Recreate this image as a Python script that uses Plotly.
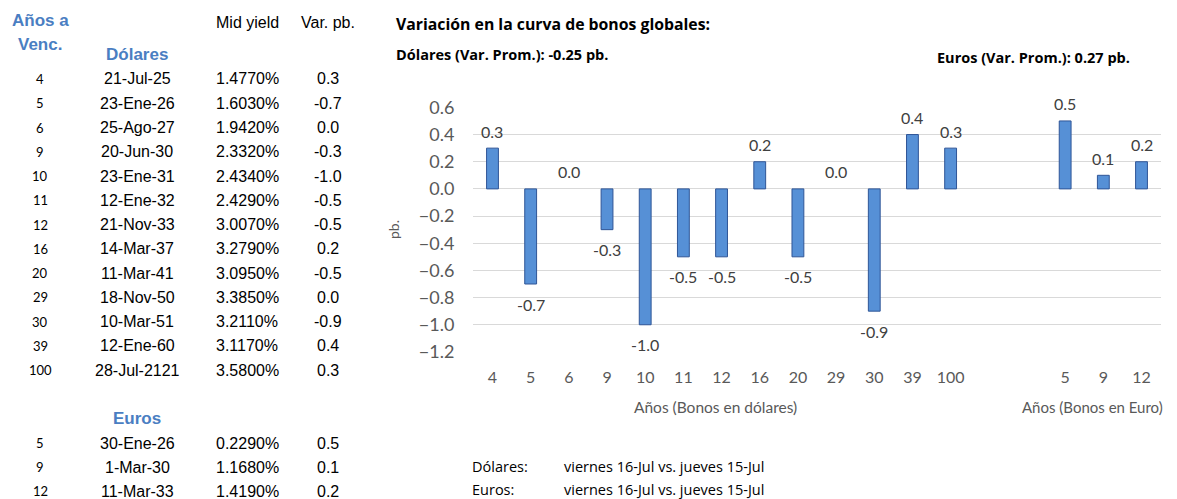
import plotly.graph_objects as go

# ---------------- data ----------------
usd_years = ["4", "5", "6", "9", "10", "11", "12", "16", "20", "29", "30", "39", "100"]
usd_dates = ["21-Jul-25", "23-Ene-26", "25-Ago-27", "20-Jun-30", "23-Ene-31", "12-Ene-32",
             "21-Nov-33", "14-Mar-37", "11-Mar-41", "18-Nov-50", "10-Mar-51", "12-Ene-60", "28-Jul-2121"]
usd_yields = ["1.4770%", "1.6030%", "1.9420%", "2.3320%", "2.4340%", "2.4290%", "3.0070%",
              "3.2790%", "3.0950%", "3.3850%", "3.2110%", "3.1170%", "3.5800%"]
usd_var = [0.3, -0.7, 0.0, -0.3, -1.0, -0.5, -0.5, 0.2, -0.5, 0.0, -0.9, 0.4, 0.3]

eur_years = ["5", "9", "12"]
eur_dates = ["30-Ene-26", "1-Mar-30", "11-Mar-33"]
eur_yields = ["0.2290%", "1.1680%", "1.4190%"]
eur_var = [0.5, 0.1, 0.2]

usd_avg = -0.25
eur_avg = 0.27
date_text = "viernes 16-Jul vs. jueves 15-Jul"

# ---------------- helpers ----------------
PAGE_W, PAGE_H = 1177, 499
OFF = 8  # default page body margin
W, H = PAGE_W - OFF, PAGE_H - OFF
def px(x):
    return (x - OFF) / W
def py(y):
    return 1 - (y - OFF) / H

usd_keys = ["USD-" + y for y in usd_years]
eur_keys = ["EUR-" + y for y in eur_years]
gap_keys = ["gap-1", "gap-2"]
all_keys = usd_keys + gap_keys + eur_keys
all_text = usd_years + ["", ""] + eur_years

BAR_FILL = "#5690D6"
BAR_LINE = "#2F5597"
CHART_TXT = "#595959"
LABEL_TXT = "#404040"
BLUE = "#4A7EC2"
CH_FONT = "Lato"
TT_FONT = "Open Sans"
TB_FONT = "Liberation Sans"

fig = go.Figure()
for keys, vals in ((usd_keys, usd_var), (eur_keys, eur_var)):
    fig.add_trace(go.Bar(
        x=keys, y=vals, width=0.31,
        marker=dict(color=BAR_FILL,
                    line=dict(color=BAR_LINE, width=[0 if v == 0 else 1 for v in vals])),
        hoverinfo="x+y",
    ))

annotations = []
# data labels
for keys, vals in ((usd_keys, usd_var), (eur_keys, eur_var)):
    for k, v in zip(keys, vals):
        annotations.append(dict(
            x=k, y=v, xref="x", yref="y", text=f"{v:.1f}", showarrow=False,
            yshift=17 if v >= 0 else -20, yanchor="middle", xanchor="center",
            font=dict(family=CH_FONT, size=16, color=LABEL_TXT)))

def txt(x, y, s, size=16, color="#000000", bold=False, family=TB_FONT, xanchor="center", angle=0):
    annotations.append(dict(
        x=px(x), y=py(y), xref="paper", yref="paper", text=f"<b>{s}</b>" if bold else s,
        showarrow=False, xanchor=xanchor, yanchor="middle", textangle=angle,
        font=dict(family=family, size=size, color=color)))

# chart titles / axis titles
txt(394, 24, "Variación en la curva de bonos globales:", size=15.8, bold=True, family=TT_FONT, xanchor="left")
txt(394, 55, f"Dólares (Var. Prom.): {usd_avg:.2f} pb.", size=14.5, bold=True, family=TT_FONT, xanchor="left")
txt(935, 57, f"Euros (Var. Prom.): {eur_avg:.2f} pb.", size=14.5, bold=True, family=TT_FONT, xanchor="left")
txt(393, 230, "pb.", size=14, color=CHART_TXT, family=CH_FONT, angle=-90)
txt(715, 407, "Años (Bonos en dólares)", size=15.5, color=CHART_TXT, family=CH_FONT)
txt(1165, 407, "Años (Bonos en Euro)", size=15, color=CHART_TXT, family=CH_FONT, xanchor="right")

# footer
txt(470, 466, "Dólares:", size=14.5, family=TT_FONT, xanchor="left")
txt(562, 466, date_text, size=14.5, family=TT_FONT, xanchor="left")
txt(470, 489, "Euros:", size=14.5, family=TT_FONT, xanchor="left")
txt(562, 489, date_text, size=14.5, family=TT_FONT, xanchor="left")

# table
COL_YR, COL_DT, COL_YL, COL_VR = 40, 137, 247, 328
txt(COL_YR, 21, "Años a", size=17, color=BLUE, bold=True)
txt(COL_YR, 45, "Venc.", size=17, color=BLUE, bold=True)
txt(COL_DT, 55, "Dólares", size=17, color=BLUE, bold=True)
txt(COL_YL, 22, "Mid yield", size=16)
txt(COL_VR, 22, "Var. pb.", size=16)

def table_rows(years, dates, yields, vars_, y0, step=24.25):
    for i, (a, b, c, d) in enumerate(zip(years, dates, yields, vars_)):
        y = y0 + i * step
        txt(COL_YR, y, a, size=13, family=CH_FONT)
        txt(COL_DT, y, b, size=16)
        txt(COL_YL, y, c, size=16)
        txt(COL_VR, y, f"{d:.1f}", size=16)

table_rows(usd_years, usd_dates, usd_yields, usd_var, 79)
txt(COL_DT, 418, "Euros", size=17, color=BLUE, bold=True)
table_rows(eur_years, eur_dates, eur_yields, eur_var, 443, step=24)

fig.update_layout(
    width=W, height=H,
    margin=dict(l=0, r=0, t=0, b=0, autoexpand=False),
    paper_bgcolor="white", plot_bgcolor="white",
    showlegend=False, barmode="overlay",
    annotations=annotations,
    xaxis=dict(
        domain=[px(473.4), px(1160.6)],
        type="category", categoryorder="array", categoryarray=all_keys,
        tickmode="array", tickvals=all_keys, ticktext=all_text,
        range=[-0.5, len(all_keys) - 0.5],
        showgrid=False, zeroline=False, showline=False, ticks="",
        ticklabelstandoff=14,
        tickfont=dict(family=CH_FONT, size=16, color=CHART_TXT),
    ),
    yaxis=dict(
        domain=[py(352), py(107.3)],
        range=[-1.2005, 0.6005], dtick=0.2, tickformat=".1f",
        showgrid=True, gridcolor="#D9D9D9", gridwidth=1,
        zeroline=True, zerolinecolor="#D9D9D9", zerolinewidth=1,
        showline=False, ticks="", ticklabelstandoff=18,
        tickfont=dict(family=CH_FONT, size=18, color=CHART_TXT),
    ),
)

fig.write_html("out.html")
